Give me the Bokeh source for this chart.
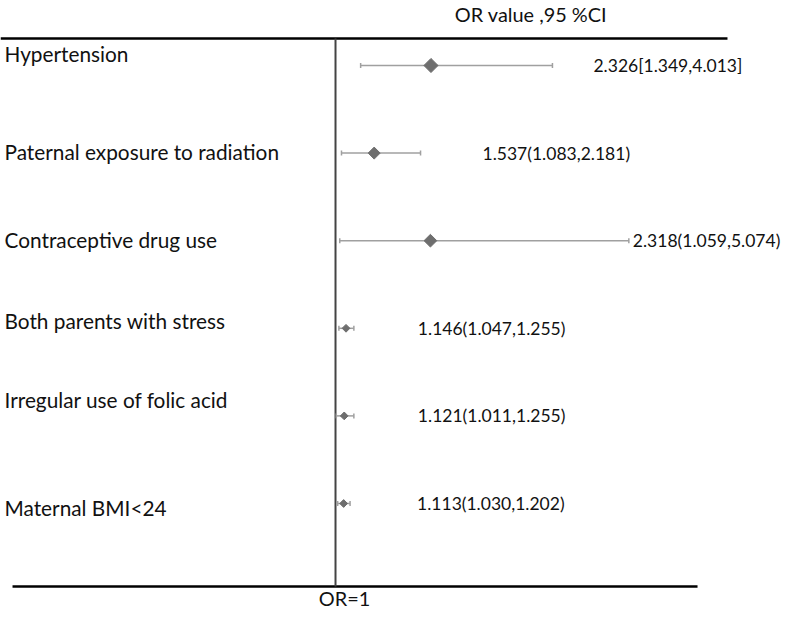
from math import pi
from bokeh.plotting import figure
from bokeh.models import Range1d
from bokeh.core.properties import value
from bokeh.embed import file_html
from bokeh.resources import INLINE

# ---- data ----
factors = ["Hypertension", "Paternal exposure to radiation", "Contraceptive drug use",
           "Both parents with stress", "Irregular use of folic acid", "Maternal BMI<24"]
or_value = [2.326, 1.537, 2.318, 1.146, 1.121, 1.113]
ci_low = [1.349, 1.083, 1.059, 1.047, 1.011, 1.030]
ci_high = [4.013, 2.181, 5.074, 1.255, 1.255, 1.202]
ci_text = ["2.326[1.349,4.013]", "1.537(1.083,2.181)", "2.318(1.059,5.074)",
           "1.146(1.047,1.255)", "1.121(1.011,1.255)", "1.113(1.030,1.202)"]

# ---- layout / style ----
rows = list(range(len(factors)))
label_dy = [-0.137, -0.023, -0.011, -0.091, -0.183, 0.046]   # label offsets (row units)
text_dx = [41, 62, 4, 64, 64, 67]                             # value-text offsets (px)
marker_size = [10, 8.5, 9, 5.5, 5.5, 5.5]
FONT = value("Lato")

PX_Y = 87.6  # pixels per row
x0, x1 = -3.653, 7.236
y_bot, y_top = 6.233, -0.742

p = figure(width=784, height=611, output_backend="svg", toolbar_location=None,
           x_range=Range1d(x0, x1), y_range=Range1d(y_bot, y_top),
           x_axis_type=None, y_axis_type=None, min_border=0)
p.grid.visible = False
p.outline_line_color = None
p.background_fill_color = "white"

top_rule = -0.308
bot_rule = len(rows) - 1 + 0.948

# rules
p.segment(x0=[x0], y0=[top_rule], x1=[6.444], y1=[top_rule], line_color="black", line_width=2.5)
p.segment(x0=[-3.486], y0=[bot_rule], x1=[6.028], y1=[bot_rule], line_color="black", line_width=2.5)
p.segment(x0=[1], y0=[top_rule], x1=[1], y1=[bot_rule], line_color="#444444", line_width=2)

# CIs
p.segment(x0=ci_low, y0=rows, x1=ci_high, y1=rows, line_color="#a0a0a0", line_width=1.5)
p.scatter(x=ci_low + ci_high, y=rows + rows, marker="dash", angle=pi / 2, size=5,
          line_color="#a0a0a0", line_width=1.5)
p.scatter(x=or_value, y=rows, marker="square", angle=pi / 4, size=marker_size,
          fill_color="#6e6e6e", line_color="#6e6e6e")

# labels
p.text(x=[x0] * len(rows), y=[r + d for r, d in zip(rows, label_dy)], text=factors,
       x_offset=4, text_font=FONT, text_font_size="20.8px", text_baseline="middle",
       text_align="left", text_color="#111111")
p.text(x=ci_high, y=rows, text=ci_text, x_offset=text_dx,
       text_font=FONT, text_font_size="17.5px", text_baseline="middle", text_align="left",
       text_color="#111111")

p.text(x=[3.715], y=[y_top + 2 / PX_Y], text=["OR value ,95 %CI"], text_font=FONT,
       text_font_size="19.9px", text_baseline="top", text_align="center", text_color="#111111")
p.text(x=[1.125], y=[y_bot - 2 / PX_Y], text=["OR=1"], text_font=FONT, text_font_size="19.9px",
       text_baseline="bottom", text_align="center", text_color="#111111")

open("out.html", "w").write(file_html(p, INLINE))
